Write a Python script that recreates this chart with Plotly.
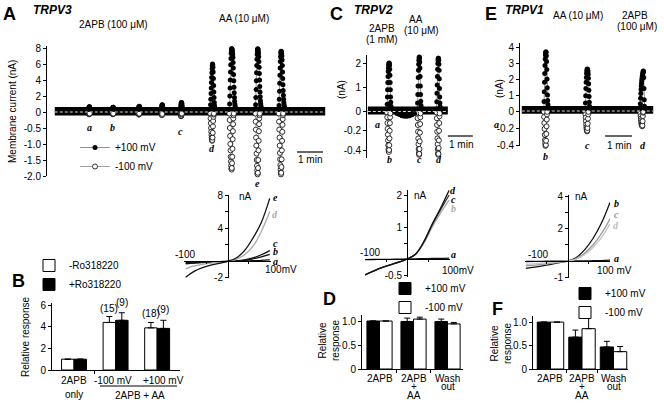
import plotly.graph_objects as go

W, H = 664, 406
SANS = "Arial, 'Liberation Sans', Helvetica, sans-serif"
SERIF = "'Liberation Serif', 'Times New Roman', serif"

# ======================= DATA =======================
# ---- Panel A: TRPV3 time course (time s, current nA) ----
A_dt = 0.5
A_base_span = [18, 642]
A_base_pos = 0.3
A_base_neg = -0.05
A_2apb_times = [97, 152, 212, 265, 309, 376, 422, 485, 535]
A_aa_span = [353, 545]
A_onsets = [96, 151, 211, 264, 308, 377, 421, 481, 535]
A_pos = [
    [0.35, 0.5, 0.6, 0.65, 0.65, 0.6, 0.5, 0.4, 0.35],
    [0.35, 0.45, 0.55, 0.6, 0.6, 0.5, 0.42, 0.35],
    [0.35, 0.5, 0.62, 0.7, 0.72, 0.65, 0.5, 0.4, 0.35],
    [0.35, 0.55, 0.75, 0.88, 0.92, 0.85, 0.65, 0.45, 0.35],
    [0.35, 0.6, 0.85, 1.05, 1.18, 1.2, 1.1, 0.9, 0.65, 0.45, 0.35],
    [0.3, 0.9, 1.6, 2.3, 3.0, 3.7, 4.3, 4.9, 5.4, 5.8, 6.0, 5.9, 5.6, 5.0, 4.2, 3.3, 2.5, 1.8, 1.2, 0.8, 0.55, 0.4, 0.32],
    [0.3, 1.0, 2.0, 3.0, 4.0, 5.0, 5.9, 6.7, 7.3, 7.7, 7.9, 7.9, 7.85, 7.7, 7.5, 7.2, 6.8, 6.2, 5.5, 4.7, 3.9, 3.1, 2.4, 1.8, 1.35, 1.0, 0.75, 0.55, 0.45, 0.38, 0.33, 0.3],
    [0.3, 0.9, 1.8, 2.8, 3.9, 4.9, 5.8, 6.6, 7.2, 7.6, 7.85, 7.9, 7.8, 7.6, 7.3, 6.9, 6.3, 5.6, 4.8, 4.0, 3.2, 2.5, 1.9, 1.4, 1.05, 0.8, 0.6, 0.47, 0.38, 0.32, 0.3],
    [0.3, 0.8, 1.6, 2.6, 3.6, 4.6, 5.5, 6.3, 6.9, 7.3, 7.55, 7.6, 7.5, 7.3, 7.0, 6.5, 5.8, 5.0, 4.2, 3.4, 2.7, 2.1, 1.6, 1.2, 0.9, 0.7, 0.55, 0.45, 0.38, 0.32, 0.3],
]
A_neg = [
    [-0.05, -0.06, -0.07, -0.07, -0.06, -0.05],
    [-0.05, -0.06, -0.07, -0.06, -0.05],
    [-0.05, -0.07, -0.08, -0.07, -0.05],
    [-0.05, -0.08, -0.1, -0.09, -0.06],
    [-0.05, -0.09, -0.12, -0.13, -0.11, -0.07, -0.05],
    [-0.05, -0.2, -0.35, -0.5, -0.62, -0.72, -0.8, -0.86, -0.9, -0.88, -0.8, -0.65, -0.45, -0.28, -0.15, -0.08, -0.05],
    [-0.05, -0.25, -0.5, -0.75, -1.0, -1.2, -1.4, -1.55, -1.68, -1.77, -1.8, -1.75, -1.6, -1.4, -1.15, -0.85, -0.6, -0.38, -0.2, -0.1, -0.05],
    [-0.05, -0.3, -0.55, -0.8, -1.05, -1.3, -1.5, -1.68, -1.82, -1.92, -1.95, -1.9, -1.75, -1.5, -1.2, -0.9, -0.6, -0.38, -0.2, -0.1, -0.05],
    [-0.05, -0.3, -0.55, -0.8, -1.05, -1.28, -1.48, -1.66, -1.8, -1.9, -1.95, -1.9, -1.72, -1.48, -1.2, -0.9, -0.62, -0.4, -0.22, -0.1, -0.05],
]
A_label_text = ["a", "b", "c", "d", "e"]
A_label_times = [97, 152, 309, 381, 485]
A_scalebar = [577, 637]
A_yticks_nA = [8, 6, 4, 2, 0, -0.5, -1.0, -1.5, -2.0]
A_yticks_txt = ["8", "6", "4", "2", "0", "-0.5", "-1.0", "-1.5", "-2.0"]

# ---- Panel C: TRPV2 time course ----
C_dt = 0.5
C_base_span = [2, 194]
C_base_pos = 0.1
C_base_neg = -0.01
C_2apb_times = [50, 125]
C_aa_span = [89, 132]
C_onsets = [48, 121, 167]
C_pos = [
    [0.1, 0.3, 0.6, 0.9, 1.2, 1.45, 1.65, 1.8, 1.9, 1.97, 2.0, 1.98, 1.9, 1.75, 1.5, 1.2, 0.9, 0.6, 0.38, 0.22, 0.14, 0.1],
    [0.1, 0.35, 0.7, 1.05, 1.4, 1.7, 1.95, 2.12, 2.22, 2.25, 2.2, 2.05, 1.8, 1.45, 1.05, 0.7, 0.42, 0.25, 0.15, 0.1],
    [0.1, 0.4, 0.75, 1.1, 1.45, 1.75, 1.98, 2.12, 2.2, 2.2, 2.12, 1.95, 1.7, 1.35, 0.95, 0.6, 0.35, 0.2, 0.12, 0.1],
]
C_neg = [
    [-0.01, -0.06, -0.12, -0.18, -0.24, -0.3, -0.35, -0.39, -0.41, -0.42, -0.4, -0.35, -0.28, -0.2, -0.12, -0.06, -0.02],
    [-0.01, -0.07, -0.14, -0.21, -0.28, -0.34, -0.39, -0.43, -0.45, -0.44, -0.39, -0.31, -0.22, -0.13, -0.06, -0.02],
    [-0.01, -0.07, -0.14, -0.21, -0.28, -0.34, -0.39, -0.43, -0.45, -0.44, -0.38, -0.3, -0.2, -0.12, -0.05, -0.02],
]
C_dip_t = [72, 78, 84, 90, 96, 102, 108, 114]
C_dip_i = [-0.02, -0.03, -0.045, -0.05, -0.05, -0.045, -0.035, -0.02]
C_label_text = ["a", "b", "c", "d"]
C_label_times = [24, 53, 125, 173]
C_scalebar = [194, 254]
C_yticks_nA = [2, 1, 0, -0.2, -0.4]
C_yticks_txt = ["2", "1", "0", "-0.2", "-0.4"]

# ---- Panel E: TRPV1 time course ----
E_dt = 0.5
E_base_span = [4, 296]
E_base_pos = 0.15
E_base_neg = -0.01
E_2apb_times = [56, 149, 273]
E_aa_span = [107, 160]
E_onsets = [53, 145, 267]
E_pos = [
    [0.15, 0.6, 1.2, 1.8, 2.35, 2.85, 3.25, 3.5, 3.65, 3.7, 3.65, 3.45, 3.1, 2.6, 2.0, 1.45, 1.0, 0.65, 0.4, 0.25, 0.17, 0.15],
    [0.15, 0.5, 0.95, 1.4, 1.8, 2.1, 2.35, 2.5, 2.58, 2.62, 2.6, 2.55, 2.45, 2.3, 2.05, 1.7, 1.3, 0.9, 0.55, 0.3, 0.18, 0.15],
    [0.15, 0.45, 0.8, 1.1, 1.35, 1.55, 1.72, 1.88, 2.0, 2.12, 2.22, 2.3, 2.38, 2.45, 2.5, 2.45, 2.1, 1.4, 0.7, 0.3, 0.15],
]
E_neg = [
    [-0.01, -0.07, -0.14, -0.21, -0.28, -0.34, -0.38, -0.41, -0.42, -0.4, -0.35, -0.27, -0.18, -0.1, -0.04, -0.01],
    [-0.01, -0.04, -0.08, -0.12, -0.16, -0.19, -0.21, -0.23, -0.24, -0.23, -0.2, -0.15, -0.09, -0.04, -0.01],
    [-0.01, -0.03, -0.06, -0.09, -0.11, -0.13, -0.15, -0.16, -0.17, -0.18, -0.17, -0.12, -0.06, -0.02, -0.01],
]
E_label_text = ["b", "c", "d"]
E_label_times = [57, 149, 273]
E_scalebar = [189, 249]
E_yticks_nA = [4, 3, 2, 1, 0, -0.2, -0.4]
E_yticks_txt = ["4", "3", "2", "1", "0", "-0.2", "-0.4"]

# ---- I-V curves (mV, nA) ----
IV_mV = [-100, -80, -60, -40, -20, 0, 20, 40, 60, 80, 100]
IVA = {
    "a": [-0.15, -0.1, -0.08, -0.05, -0.02, 0, 0.02, 0.05, 0.08, 0.12, 0.18],
    "b": [-0.25, -0.18, -0.12, -0.08, -0.04, 0, 0.04, 0.12, 0.3, 0.55, 0.85],
    "c": [-0.3, -0.2, -0.14, -0.09, -0.04, 0, 0.06, 0.18, 0.42, 0.8, 1.3],
    "d": [-0.9, -0.55, -0.35, -0.2, -0.1, 0, 0.25, 0.8, 1.8, 3.6, 6.0],
    "e": [-1.9, -1.2, -0.75, -0.45, -0.25, 0, 0.4, 1.3, 2.8, 4.7, 7.6],
}
IVC = {
    "a": [-0.02, -0.015, -0.01, -0.01, -0.005, 0, 0.005, 0.01, 0.015, 0.02, 0.03],
    "b": [-0.48, -0.37, -0.27, -0.18, -0.1, 0, 0.14, 0.5, 1.0, 1.45, 1.85],
    "c": [-0.5, -0.38, -0.27, -0.18, -0.1, 0, 0.15, 0.53, 1.07, 1.55, 2.0],
    "d": [-0.5, -0.38, -0.27, -0.18, -0.1, 0, 0.15, 0.55, 1.1, 1.6, 2.15],
}
IVE = {
    "a": [-0.03, -0.02, -0.02, -0.01, -0.01, 0, 0.01, 0.01, 0.02, 0.03, 0.05],
    "b": [-0.45, -0.38, -0.3, -0.2, -0.1, 0, 0.22, 0.7, 1.4, 2.35, 3.6],
    "c": [-0.3, -0.25, -0.2, -0.14, -0.07, 0, 0.15, 0.5, 1.0, 1.7, 2.6],
    "d": [-0.2, -0.17, -0.13, -0.09, -0.05, 0, 0.12, 0.4, 0.85, 1.45, 2.3],
}

# ---- Panel B: relative response (TRPV3, Ro318220) ----
B_groups = ["2APB<br>only", "-100 mV", "+100 mV"]
B_minus_ro = [1.0, 4.4, 3.9]
B_minus_ro_err = [0, 0.55, 0.5]
B_plus_ro = [1.0, 4.6, 3.85]
B_plus_ro_err = [0, 0.7, 0.75]
B_n_minus = ["", "(15)", "(18)"]
B_n_plus = ["", "(9)", "(9)"]

# ---- Panel D: TRPV2 relative response ----
D_groups = [["2APB"], ["2APB", "+", "AA"], ["Wash", "out"]]
D_pos = [1.0, 0.99, 0.99]
D_pos_err = [0, 0.07, 0.05]
D_neg = [1.0, 1.04, 0.94]
D_neg_err = [0, 0.04, 0.03]

# ---- Panel F: TRPV1 relative response ----
F_groups = [["2APB"], ["2APB", "+", "AA"], ["Wash", "out"]]
F_pos = [1.0, 0.68, 0.47]
F_pos_err = [0, 0.15, 0.12]
F_neg = [1.0, 0.86, 0.37]
F_neg_err = [0, 0.35, 0.11]


# ======================= HELPERS =======================
def xdom(l, r):
    return [l / W, r / W]


def ydom(top, bot):
    return [1 - bot / H, 1 - top / H]


def warp(vals, pos_step, neg_factor):
    out = []
    for v in vals:
        if v is None:
            out.append(None)
        elif v >= 0:
            out.append(v / pos_step)
        else:
            out.append(v * neg_factor)
    return out


def series(onsets, blocks, dt):
    xs, ys = [], []
    for t0, vals in zip(onsets, blocks):
        for k, v in enumerate(vals):
            xs.append(t0 + k * dt)
            ys.append(v)
        xs.append(None)
        ys.append(None)
    return xs, ys


fig = go.Figure()
ann = []
shapes = []

WARP = {
    "A": (2.0, 2.0),
    "C": (1.0, (1 / 0.2) * (19.25 / 24.2)),
    "E": (1.0, (1 / 0.2) * (17.0 / 16.0)),
}

FILLED = dict(symbol="circle", size=5, color="black", line=dict(width=0))
OPEN = dict(symbol="circle", size=5, color="white", line=dict(width=0.8, color="black"))


def time_panel(key, xa, ya, base_span, base_pos, base_neg, onsets, pos, neg, dt,
               apb_times, apb_u, aa_span, aa_u, scalebar, sb_u, legend_on):
    ps, nf = WARP[key]
    fig.add_trace(go.Scatter(x=base_span, y=warp([base_pos] * 2, ps, nf), mode="lines",
                             line=dict(color="black", width=5), xaxis=xa, yaxis=ya,
                             showlegend=False, hoverinfo="skip"))
    fig.add_trace(go.Scatter(x=base_span, y=warp([base_neg] * 2, ps, nf), mode="lines",
                             line=dict(color="black", width=4), xaxis=xa, yaxis=ya,
                             showlegend=False, hoverinfo="skip"))
    nx, ny = series(onsets, neg, dt)
    fig.add_trace(go.Scatter(x=nx, y=warp(ny, ps, nf), mode="lines+markers", name="-100 mV",
                             line=dict(color="#666", width=0.6), marker=OPEN,
                             xaxis=xa, yaxis=ya, showlegend=legend_on, legend="legend",
                             legendrank=2, cliponaxis=False))
    px_, py_ = series(onsets, pos, dt)
    fig.add_trace(go.Scatter(x=px_, y=warp(py_, ps, nf), mode="lines+markers", name="+100 mV",
                             line=dict(color="#444", width=0.6), marker=FILLED,
                             xaxis=xa, yaxis=ya, showlegend=legend_on, legend="legend",
                             legendrank=1, cliponaxis=False))
    fig.add_trace(go.Scatter(x=base_span, y=[0, 0], mode="lines",
                             line=dict(color="#d8d8d8", width=1, dash="3px,2px"),
                             xaxis=xa, yaxis=ya, showlegend=False, hoverinfo="skip"))
    fig.add_trace(go.Scatter(x=apb_times, y=[apb_u] * len(apb_times), mode="markers",
                             marker=dict(symbol="square-open", size=5, color="black",
                                         line=dict(width=1)),
                             xaxis=xa, yaxis=ya, showlegend=False, cliponaxis=False,
                             hoverinfo="skip"))
    fig.add_trace(go.Scatter(x=aa_span, y=[aa_u] * 2, mode="lines",
                             line=dict(color="black", width=3.5), xaxis=xa, yaxis=ya,
                             showlegend=False, cliponaxis=False, hoverinfo="skip"))
    fig.add_trace(go.Scatter(x=scalebar, y=[sb_u] * 2, mode="lines",
                             line=dict(color="#333", width=1.5), xaxis=xa, yaxis=ya,
                             showlegend=False, cliponaxis=False, hoverinfo="skip"))


A_x0, A_x1 = 47, 330
A_range_t = [0, (A_x1 - A_x0) / 26.0 * 60]
A_top, A_bot = 46, 176
A_y0 = 112
A_uppx = 16.0
time_panel("A", "x", "y", A_base_span, A_base_pos, A_base_neg, A_onsets, A_pos, A_neg, A_dt,
           A_2apb_times, (A_y0 - 34) / A_uppx, A_aa_span, (A_y0 - 25) / A_uppx,
           A_scalebar, (A_y0 - 152) / A_uppx, True)

C_x0, C_x1 = 367, 475
C_range_t = [0, (C_x1 - C_x0) / 25.0 * 60]
C_top, C_bot = 55, 158
C_y0 = 111.5
C_uppx = 24.2
time_panel("C", "x2", "y2", C_base_span, C_base_pos, C_base_neg, C_onsets, C_pos, C_neg, C_dt,
           C_2apb_times, (C_y0 - 47) / C_uppx, C_aa_span, (C_y0 - 40) / C_uppx,
           C_scalebar, (C_y0 - 136) / C_uppx, False)
fig.add_trace(go.Scatter(x=C_dip_t, y=warp(C_dip_i, *WARP["C"]), mode="markers", marker=FILLED,
                         xaxis="x2", yaxis="y2", showlegend=False, hoverinfo="skip"))

E_x0, E_x1 = 520, 662
E_range_t = [0, (E_x1 - E_x0) / 27.0 * 60]
E_top, E_bot = 43, 146
E_y0 = 111
E_uppx = 16.0
time_panel("E", "x3", "y3", E_base_span, E_base_pos, E_base_neg, E_onsets, E_pos, E_neg, E_dt,
           E_2apb_times, (E_y0 - 35) / E_uppx, E_aa_span, (E_y0 - 25) / E_uppx,
           E_scalebar, (E_y0 - 136) / E_uppx, False)

IV_colors_A = {"a": "#111", "b": "#111", "c": "#111", "d": "#a8a8a8", "e": "#111"}
IV_colors_C = {"a": "#111", "b": "#a8a8a8", "c": "#333", "d": "#111"}
IV_colors_E = {"a": "#111", "b": "#111", "c": "#999", "d": "#c4c4c4"}
for data, cols, xa, ya in [(IVA, IV_colors_A, "x4", "y4"), (IVC, IV_colors_C, "x5", "y5"),
                           (IVE, IV_colors_E, "x6", "y6")]:
    for k, vals in data.items():
        fig.add_trace(go.Scatter(x=IV_mV, y=vals, mode="lines",
                                 line=dict(color=cols[k], width=1.3, shape="spline"),
                                 xaxis=xa, yaxis=ya, showlegend=False, hoverinfo="skip",
                                 cliponaxis=False))


def bar_pair(xa, ya, left_vals, left_err, left_color, left_name,
             right_vals, right_err, right_color, right_name, width, legend):
    xs = list(range(len(left_vals)))
    fig.add_trace(go.Bar(x=xs, y=left_vals, width=width, offset=-width, name=left_name,
                         marker=dict(color=left_color, line=dict(color="black", width=1)),
                         error_y=dict(type="data", array=left_err, arrayminus=[0] * len(xs),
                                      symmetric=False, color="black", thickness=1, width=3),
                         xaxis=xa, yaxis=ya, legend=legend, cliponaxis=False, legendrank=1))
    fig.add_trace(go.Bar(x=xs, y=right_vals, width=width, offset=0, name=right_name,
                         marker=dict(color=right_color, line=dict(color="black", width=1)),
                         error_y=dict(type="data", array=right_err, arrayminus=[0] * len(xs),
                                      symmetric=False, color="black", thickness=1, width=3),
                         xaxis=xa, yaxis=ya, legend=legend, cliponaxis=False, legendrank=2))


bar_pair("x7", "y7", B_minus_ro, B_minus_ro_err, "white", "-Ro318220",
         B_plus_ro, B_plus_ro_err, "black", "+Ro318220", 0.3, "legend2")
bar_pair("x8", "y8", D_pos, D_pos_err, "black", "+100 mV",
         D_neg, D_neg_err, "white", "-100 mV", 0.37, "legend3")
bar_pair("x9", "y9", F_pos, F_pos_err, "black", "+100 mV",
         F_neg, F_neg_err, "white", "-100 mV", 0.42, "legend4")

for i in range(3):
    if B_n_minus[i]:
        ann.append(dict(x=i - 0.15, y=B_minus_ro[i] + B_minus_ro_err[i], xref="x7", yref="y7",
                        text=B_n_minus[i], showarrow=False, xanchor="center", yanchor="bottom",
                        yshift=1, font=dict(size=10, family=SANS)))
    if B_n_plus[i]:
        ann.append(dict(x=i + 0.15, y=B_plus_ro[i] + B_plus_ro_err[i], xref="x7", yref="y7",
                        text=B_n_plus[i], showarrow=False, xanchor="center", yanchor="bottom",
                        yshift=3, font=dict(size=10, family=SANS)))

# ======================= AXES =======================
AX = dict(showgrid=False, zeroline=False, linecolor="black", linewidth=1, color="black",
          tickfont=dict(size=10, family=SANS, color="black"), ticks="outside", ticklen=3,
          tickwidth=1, tickcolor="black", automargin=False)
layout = dict(width=W, height=H, autosize=False,
              margin=dict(l=0, r=0, t=0, b=0, pad=0, autoexpand=False),
              plot_bgcolor="white", paper_bgcolor="white",
              font=dict(family=SANS, size=10, color="black"),
              barmode="overlay", showlegend=True)


def tpanel_axes(n, x0, x1, trange, top, bot, y0, uppx, ticks_nA, ticks_txt, key):
    ps, nf = WARP[key]
    sfx = "" if n == 1 else str(n)
    layout["xaxis" + sfx] = dict(AX, domain=xdom(x0, x1), range=trange, autorange=False,
                                 visible=False, anchor="y" + sfx)
    layout["yaxis" + sfx] = dict(AX, domain=ydom(top, bot),
                                 range=[-(bot - y0) / uppx, (y0 - top) / uppx],
                                 autorange=False, showline=True,
                                 tickvals=warp(ticks_nA, ps, nf),
                                 ticktext=ticks_txt, anchor="x" + sfx)


tpanel_axes(1, A_x0, A_x1, A_range_t, A_top, A_bot, A_y0, A_uppx, A_yticks_nA, A_yticks_txt, "A")
tpanel_axes(2, C_x0, C_x1, C_range_t, C_top, C_bot, C_y0, C_uppx, C_yticks_nA, C_yticks_txt, "C")
tpanel_axes(3, E_x0, E_x1, E_range_t, E_top, E_bot, E_y0, E_uppx, E_yticks_nA, E_yticks_txt, "E")


def iv_axes(n, xl, xr, xrange, yzero_px, ytop, ybot, yrange, xzero_px, yticks, yticktxt):
    layout["xaxis%d" % n] = dict(AX, domain=xdom(xl, xr), range=xrange, anchor="free",
                                 position=1 - yzero_px / H, showline=True, tickvals=[-50, 50],
                                 showticklabels=False, ticklen=2)
    layout["yaxis%d" % n] = dict(AX, domain=ydom(ytop, ybot), range=yrange, anchor="free",
                                 position=xzero_px / W, showline=True, tickvals=yticks,
                                 ticktext=yticktxt)


iv_axes(4, 184, 271, [-104, 103], 261, 194.6, 278.4, [-2.05, 8.05], 228,
        [-2, 0, 2, 4, 6, 8], ["-2", "", "", "4", "", "8"])
iv_axes(5, 365, 450, [-100, 102], 259, 190.2, 276.6, [-0.55, 2.15], 407,
        [-0.5, 0, 0.5, 1, 1.5, 2], ["-0.5", "", "", "1", "", "2"])
iv_axes(6, 525, 610, [-102, 100], 261, 195.2, 277.6, [-1.02, 4.05], 568,
        [-1, 0, 1, 2, 3, 4], ["-1", "", "", "2", "", "4"])


def bar_axes(n, xl, xr, xrange, ytop, ybot, yrange, yticks, ytxt, minor):
    layout["xaxis%d" % n] = dict(AX, domain=xdom(xl, xr), range=xrange, anchor="y%d" % n,
                                 showline=True, tickvals=[0, 1, 2], showticklabels=False,
                                 ticks="",
                                 minor=dict(tickvals=minor, ticks="outside", ticklen=3,
                                            tickcolor="black"))
    layout["yaxis%d" % n] = dict(AX, domain=ydom(ytop, ybot), range=yrange, anchor="x%d" % n,
                                 showline=True, tickvals=yticks, ticktext=ytxt)


bar_axes(7, 52, 180, [-0.53, 2.55], 303, 370, [0, 6.2], [0, 2, 4, 6],
         ["0", "2", "4", "6"], [0.5])
bar_axes(8, 362, 463, [-0.515, 2.455], 315, 369, [0, 1.125], [0, 0.5, 1.0],
         ["0", "0.5", "1.0"], [0.5, 1.5])
bar_axes(9, 533, 628, [-0.555, 2.46], 316, 369, [0, 1.13], [0, 0.5, 1.0],
         ["0", "0.5", "1.0"], [0.5, 1.5])

# ======================= LEGENDS =======================
LEG = dict(font=dict(size=10, family=SANS), bgcolor="rgba(0,0,0,0)", xanchor="left",
           yanchor="top", itemwidth=30, tracegroupgap=0, traceorder="normal")
layout["legend"] = dict(LEG, x=75 / W, y=1 - 133 / H)
layout["legend2"] = dict(LEG, x=29 / W, y=1 - 251 / H)
layout["legend3"] = dict(LEG, x=385 / W, y=1 - 274 / H)
layout["legend4"] = dict(LEG, x=565 / W, y=1 - 279 / H)


# ======================= TEXT =======================
def ptxt(x, y, text, size=10, **kw):
    d = dict(x=x / W, y=1 - y / H, xref="paper", yref="paper", text=text, showarrow=False,
             xanchor="center", yanchor="middle",
             font=dict(size=size, family=kw.pop("family", SANS), color=kw.pop("color", "black")))
    d.update(kw)
    ann.append(d)


def dtxt(xref, x, y, text, size=10, family=SANS, color="black"):
    ann.append(dict(x=x, y=1 - y / H, xref=xref, yref="paper", text=text, showarrow=False,
                    xanchor="center", yanchor="middle",
                    font=dict(size=size, family=family, color=color)))


ptxt(9, 14, "<b>A</b>", 18)
ptxt(53, 10, "<b><i>TRPV3</i></b>", 12)
ptxt(336, 14, "<b>C</b>", 18)
ptxt(373, 10, "<b><i>TRPV2</i></b>", 12)
ptxt(491, 14, "<b>E</b>", 18)
ptxt(524, 10, "<b><i>TRPV1</i></b>", 12)
ptxt(18, 281, "<b>B</b>", 18)
ptxt(329, 299, "<b>D</b>", 18)
ptxt(497, 309, "<b>F</b>", 18)

ptxt(113, 25, "2APB (100 μM)", 10)
ptxt(244, 18, "AA (10 μM)", 10)
ptxt(382, 28, "2APB", 10)
ptxt(382, 39, "(1 mM)", 10)
ptxt(416, 19, "AA", 10)
ptxt(421, 31, "(10 μM)", 10)
ptxt(578, 16, "AA (10 μM)", 10)
ptxt(635, 16, "2APB", 10)
ptxt(637, 27, "(100 μM)", 10)

ptxt(12, 112, "Membrane current (nA)", 10, textangle=-90)
ptxt(341, 89, "(nA)", 10, textangle=-90)
ptxt(499, 89, "(nA)", 10, textangle=-90)
ptxt(25, 337, "Relative response", 10, textangle=-90)
ptxt(329, 340, "Relative<br>response", 10, textangle=-90)
ptxt(501, 343, "Relative<br>response", 10, textangle=-90)

ptxt(310, 159, "1 min", 10)
ptxt(461, 144, "1 min", 10)
ptxt(619, 145, "1 min", 10)

for t, s, ypx in zip(A_label_times, A_label_text, [127, 127, 131, 148, 183]):
    dtxt("x", t, ypx, "<b><i>%s</i></b>" % s, 10, SERIF)
for t, s, ypx in zip(C_label_times, C_label_text, [124, 160, 160, 160]):
    dtxt("x2", t, ypx, "<b><i>%s</i></b>" % s, 10, SERIF)
ptxt(496, 124, "<b><i>a</i></b>", 10, family=SERIF)
for t, s, ypx in zip(E_label_times, E_label_text, [156, 145, 145]):
    dtxt("x3", t, ypx, "<b><i>%s</i></b>" % s, 10, SERIF)

ptxt(245, 196, "nA", 10)
ptxt(185, 255, "-100", 10)
ptxt(281, 269, "100mV", 10)
for s, y, c in [("e", 198, "black"), ("d", 214, "#aaa"), ("c", 243, "black"), ("b", 251, "black"),
                ("a", 261, "black")]:
    ptxt(275, y, "<b><i>%s</i></b>" % s, 10, family=SERIF, color=c)

ptxt(420, 195, "nA", 10)
ptxt(370, 253, "-100", 10)
ptxt(458, 270, "100mV", 10)
for s, y, c in [("d", 190, "black"), ("c", 199, "black"), ("b", 208, "#aaa"), ("a", 255, "black")]:
    ptxt(453, y, "<b><i>%s</i></b>" % s, 10, family=SERIF, color=c)

ptxt(581, 196, "nA", 10)
ptxt(538, 255, "-100", 10)
ptxt(614, 270, "100 mV", 10)
for s, y, c in [("b", 203, "black"), ("c", 215, "#999"), ("d", 225, "#bbb"), ("a", 258, "black")]:
    ptxt(616, y, "<b><i>%s</i></b>" % s, 10, family=SERIF, color=c)

dtxt("x7", 0, 380, B_groups[0].split("<br>")[0])
dtxt("x7", 0, 394, B_groups[0].split("<br>")[1])
ptxt(113, 380, B_groups[1], 10)
ptxt(163, 380, B_groups[2], 10)
ptxt(140, 395, "2APB + AA", 10)
shapes.append(dict(type="line", xref="paper", yref="paper", x0=100 / W, x1=177 / W,
                   y0=1 - 386 / H, y1=1 - 386 / H, line=dict(color="black", width=1)))

for xref, groups in [("x8", D_groups), ("x9", F_groups)]:
    for i, lines in enumerate(groups):
        for j, line in enumerate(lines):
            dtxt(xref, i, 378 + 8.5 * j, line, 10)

layout["annotations"] = ann
layout["shapes"] = shapes
fig.update_layout(**layout)
fig.write_html("out.html",
               config={"displayModeBar": False, "staticPlot": True},
               post_script="document.body.style.margin='0';document.body.style.padding='0';"
                           "document.body.style.overflow='hidden';")
